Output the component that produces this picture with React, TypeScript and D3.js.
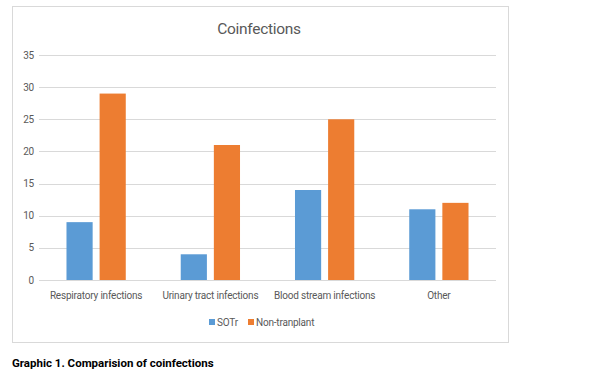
import * as d3 from "d3";

const categories = [
  "Respiratory infections",
  "Urinary tract infections",
  "Blood stream infections",
  "Other",
];
const seriesNames = ["SOTr", "Non-tranplant"];
const sotr = [9, 4, 14, 11];
const nonTransplant = [29, 21, 25, 12];
const yTicks = [0, 5, 10, 15, 20, 25, 30, 35];

/** svg dimensions */
const width = 607;
const height = 371;
const plot = { left: 39, right: 496, top: 55, bottom: 280 };
const colors = ["#5B9BD5", "#ED7D31"];
const font = "Roboto, 'Liberation Sans', sans-serif";
const labelStyle = { fontSize: "10px", fontFamily: font, letterSpacing: "-0.2px" };

const App = () => {
  const xScale = d3
    .scaleBand<string>()
    .domain(categories)
    .range([plot.left, plot.right]);
  const inner = d3
    .scaleBand<string>()
    .domain(seriesNames)
    .range([0, xScale.bandwidth()])
    .paddingInner(0.21)
    .paddingOuter(0.83);
  const yScale = d3.scaleLinear().domain([0, 35]).range([plot.bottom, plot.top]);
  const values = [sotr, nonTransplant];

  return (
    <svg
      width={width}
      height={height}
      viewBox={[0, 0, width, height].join(" ")}
      style={{ position: "absolute", left: 0, top: 0, background: "#fff" }}
    >
      <rect x={0} y={0} width={width} height={height} fill="#fff" />
      {/* chart frame */}
      <rect x={12.5} y={6.5} width={496} height={336} fill="none" stroke="#D9D9D9" />
      {/* title */}
      <text
        x={259}
        y={34}
        textAnchor="middle"
        fill="#595959"
        style={{ fontSize: "15.5px", fontFamily: font, letterSpacing: "-0.3px" }}
      >
        Coinfections
      </text>
      {/* gridlines and y labels */}
      {yTicks.map((t) => (
        <g key={t}>
          <line
            x1={plot.left}
            x2={plot.right}
            y1={Math.round(yScale(t)) + 0.5}
            y2={Math.round(yScale(t)) + 0.5}
            stroke="#D9D9D9"
          />
          <text
            x={34}
            y={yScale(t)}
            textAnchor="end"
            dominantBaseline="central"
            fill="#595959"
            style={labelStyle}
          >
            {t}
          </text>
        </g>
      ))}
      {/* bars */}
      {categories.map((c, i) => (
        <g key={c} transform={`translate(${xScale(c)},0)`}>
          {seriesNames.map((s, j) => (
            <rect
              key={s}
              x={inner(s)}
              y={yScale(values[j][i])}
              width={inner.bandwidth()}
              height={yScale(0) - yScale(values[j][i])}
              fill={colors[j]}
            />
          ))}
          <text
            x={xScale.bandwidth() / 2}
            y={299}
            textAnchor="middle"
            fill="#595959"
            style={labelStyle}
          >
            {c}
          </text>
        </g>
      ))}
      {/* legend */}
      <rect x={209} y={319} width={6} height={6} fill={colors[0]} />
      <text x={217} y={326} fill="#595959" style={labelStyle}>
        {seriesNames[0]}
      </text>
      <rect x={248} y={319} width={6} height={6} fill={colors[1]} />
      <text x={256} y={326} fill="#595959" style={labelStyle}>
        {seriesNames[1]}
      </text>
      {/* caption */}
      <text
        x={12}
        y={367}
        fill="#000"
        style={{ fontSize: "11.5px", fontWeight: "bold", fontFamily: font }}
      >
        Graphic 1. Comparision of coinfections
      </text>
    </svg>
  );
};

export default App;
